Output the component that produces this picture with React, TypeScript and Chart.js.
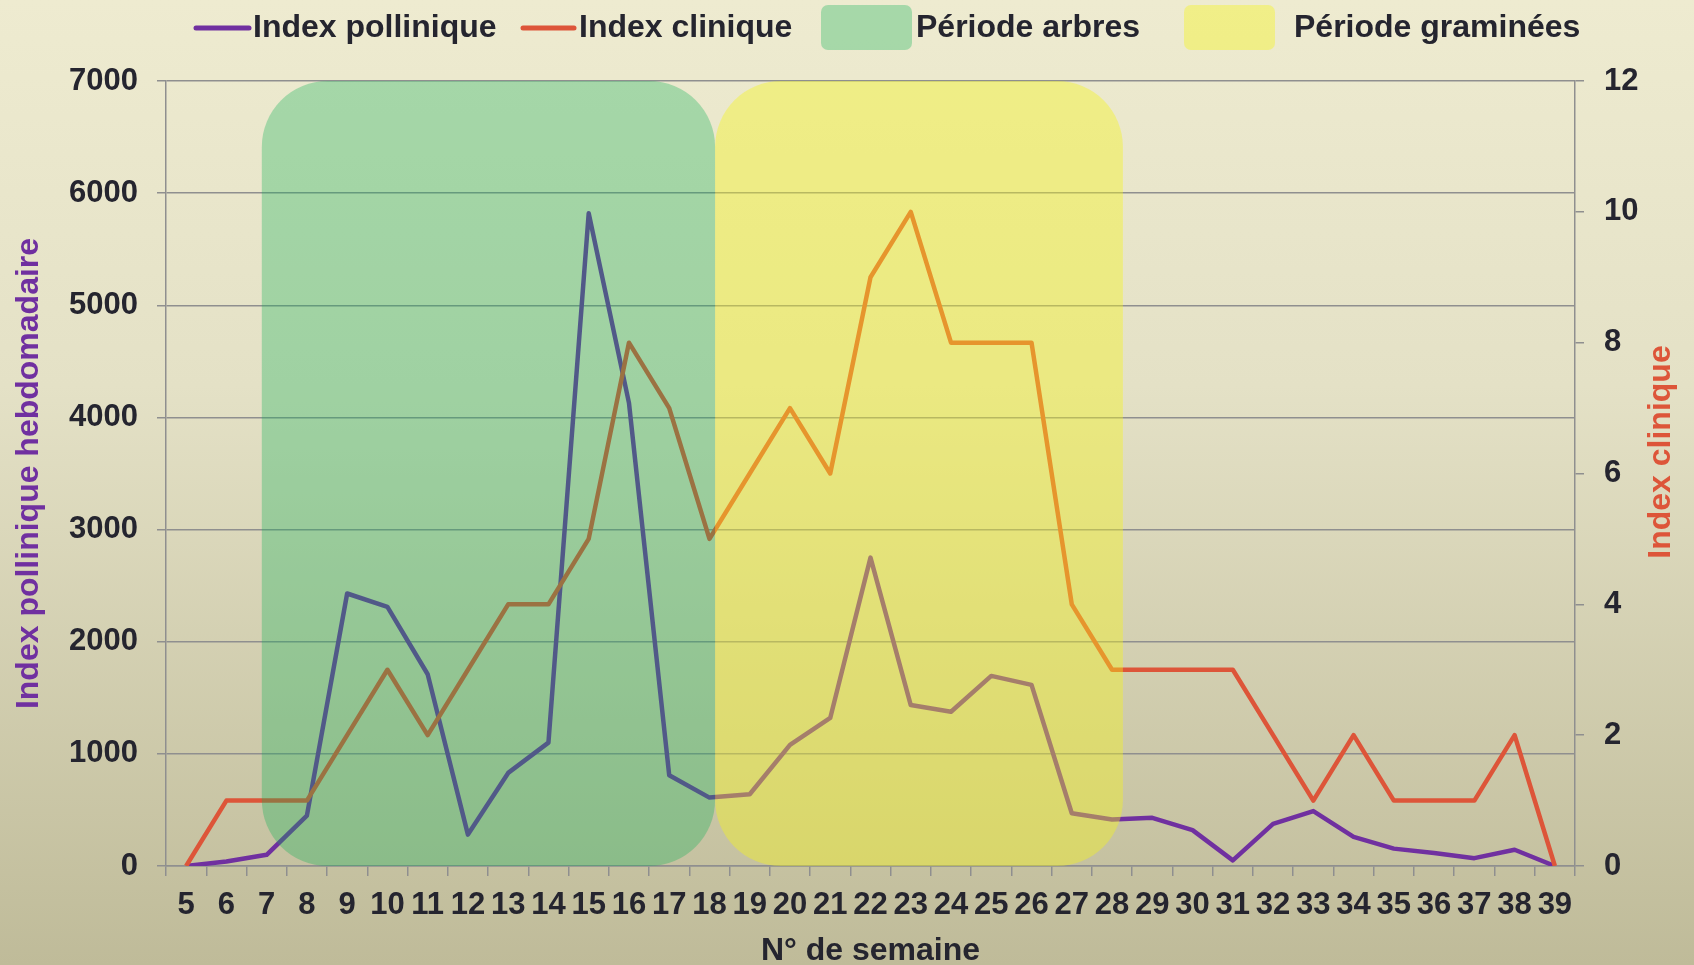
import React, { useEffect, useRef } from "react";
import { Chart, registerables } from "chart.js";

Chart.register(...registerables);

const weeks = [
  "5", "6", "7", "8", "9", "10", "11", "12", "13", "14", "15", "16", "17", "18", "19", "20", "21", "22",
  "23", "24", "25", "26", "27", "28", "29", "30", "31", "32", "33", "34", "35", "36", "37", "38", "39",
];

const indexPollinique = [
  0, 40, 100, 450, 2430, 2310, 1710, 280, 830, 1100, 5820, 4130, 810, 610, 640, 1080, 1320, 2750,
  1435, 1375, 1695, 1615, 470, 415, 430, 320, 50, 375, 490, 260, 155, 115, 70, 145, 0,
];

const indexClinique = [
  0, 1, 1, 1, 2, 3, 2, 3, 4, 4, 5, 8, 7, 5, 6, 7, 6, 9,
  10, 8, 8, 8, 4, 3, 3, 3, 3, 2, 1, 2, 1, 1, 1, 2, 0,
];

// period boxes, expressed in week numbers (start, end)
const periodeArbres = [6.88, 18.14];
const periodeGraminees = [18.14, 28.27];

const leftTicksMax = 7000;
const rightTicksMax = 12;

const FONT = '"Liberation Sans", Arial, sans-serif';
const TEXT = "#25252F";
const GRID = "#8F8F8F";
const PURPLE = "#7030A0";
const RED = "#DD5539";
const GREEN_FILL = "rgba(14,178,87,0.32)";
const YELLOW_FILL = "rgba(245,245,28,0.40)";

const periodsPlugin = {
  id: "periods",
  afterDatasetsDraw(chart: any) {
    const { ctx } = chart;
    const xs = chart.scales.x;
    const ys = chart.scales.y;
    const top = ys.getPixelForValue(leftTicksMax);
    const bottom = ys.getPixelForValue(0);
    const draw = (p: number[], fill: string) => {
      const x1 = xs.getPixelForValue(p[0] - 5);
      const x2 = xs.getPixelForValue(p[1] - 5);
      ctx.save();
      ctx.fillStyle = fill;
      ctx.beginPath();
      (ctx as any).roundRect(x1, top, x2 - x1, bottom - top, 66);
      ctx.fill();
      ctx.restore();
    };
    draw(periodeArbres, GREEN_FILL);
    draw(periodeGraminees, YELLOW_FILL);
  },
};

const legendPlugin = {
  id: "customLegend",
  afterDraw(chart: any) {
    const { ctx } = chart;
    ctx.save();
    ctx.font = `bold 32px ${FONT}`;
    ctx.textBaseline = "middle";
    ctx.textAlign = "left";
    const y = 28;
    const lineItem = (x1: number, x2: number, color: string, tx: number, text: string) => {
      ctx.strokeStyle = color;
      ctx.lineWidth = 5;
      ctx.lineCap = "round";
      ctx.beginPath();
      ctx.moveTo(x1, y);
      ctx.lineTo(x2, y);
      ctx.stroke();
      ctx.fillStyle = TEXT;
      ctx.fillText(text, tx, y);
    };
    lineItem(196, 249, PURPLE, 253, "Index pollinique");
    lineItem(523, 574, RED, 579, "Index clinique");
    const boxItem = (x: number, fill: string, tx: number, text: string) => {
      ctx.fillStyle = fill;
      ctx.beginPath();
      (ctx as any).roundRect(x, 5, 91, 45, 7);
      ctx.fill();
      ctx.fillStyle = TEXT;
      ctx.fillText(text, tx, y);
    };
    boxItem(821, GREEN_FILL, 916, "Période arbres");
    boxItem(1184, YELLOW_FILL, 1294, "Période graminées");

    // right axis title, reading bottom-to-top
    ctx.translate(1661, 452);
    ctx.rotate(-Math.PI / 2);
    ctx.textAlign = "center";
    ctx.fillStyle = RED;
    ctx.fillText("Index clinique", 0, 0);
    ctx.restore();
  },
};

export default function App() {
  const canvasRef = useRef<HTMLCanvasElement | null>(null);

  useEffect(() => {
    document.body.style.margin = "0";
    const canvas = canvasRef.current;
    if (!canvas) return;
    const chart = new Chart(canvas, {
      type: "line",
      data: {
        labels: weeks,
        datasets: [
          {
            label: "Index pollinique",
            data: indexPollinique,
            yAxisID: "y",
            borderColor: PURPLE,
            borderWidth: 4.5,
            pointRadius: 0,
            tension: 0,
            borderJoinStyle: "round",
            fill: false,
            order: 1,
          },
          {
            label: "Index clinique",
            data: indexClinique,
            yAxisID: "y1",
            borderColor: RED,
            borderWidth: 4.5,
            pointRadius: 0,
            tension: 0,
            borderJoinStyle: "round",
            fill: false,
            order: 0,
          },
        ],
      },
      options: {
        animation: false,
        responsive: false,
        devicePixelRatio: 1,
        layout: { padding: { top: 81, left: 0, right: 0, bottom: 0 } },
        plugins: {
          legend: { display: false },
          tooltip: { enabled: false },
          title: { display: false },
        },
        scales: {
          x: {
            type: "category",
            offset: true,
            grid: {
              offset: true,
              drawOnChartArea: false,
              drawTicks: true,
              tickLength: 10,
              color: GRID,
              lineWidth: 1.5,
            },
            border: { display: true, color: GRID, width: 1.5 },
            ticks: {
              autoSkip: false,
              maxRotation: 0,
              padding: 11,
              color: TEXT,
              font: { family: FONT, size: 31, weight: "bold" },
            },
            title: {
              display: true,
              text: "N° de semaine",
              color: TEXT,
              font: { family: FONT, size: 32, weight: "bold" },
              padding: { top: 0, bottom: -5 },
            },
            afterFit: (s: any) => {
              s.height = 99;
            },
          },
          y: {
            position: "left",
            min: 0,
            max: leftTicksMax,
            ticks: {
              stepSize: 1000,
              padding: 19,
              color: TEXT,
              font: { family: FONT, size: 31, weight: "bold" },
              callback: (v: any) => String(v),
            },
            grid: { color: GRID, lineWidth: 1.5, tickLength: 9, drawTicks: true },
            border: { display: true, color: GRID, width: 1.5 },
            title: {
              display: true,
              text: "Index pollinique hebdomadaire",
              color: PURPLE,
              font: { family: FONT, size: 32, weight: "bold" },
              padding: { top: 10, bottom: 0 },
            },
            afterFit: (s: any) => {
              s.width = 166;
            },
          },
          y1: {
            position: "right",
            min: 0,
            max: rightTicksMax,
            ticks: {
              stepSize: 2,
              padding: 20,
              color: TEXT,
              font: { family: FONT, size: 31, weight: "bold" },
              callback: (v: any) => String(v),
            },
            grid: {
              drawOnChartArea: false,
              drawTicks: true,
              tickLength: 9,
              color: GRID,
              lineWidth: 1.5,
            },
            border: { display: true, color: GRID, width: 1.5 },
            afterFit: (s: any) => {
              s.width = 119;
            },
          },
        },
      } as any,
      plugins: [periodsPlugin, legendPlugin],
    });
    return () => chart.destroy();
  }, []);

  return (
    <div
      style={{
        width: 1694,
        height: 965,
        background: "linear-gradient(to bottom, #EEEBD0 0%, #E4E1C6 40%, #BFBB99 100%)",
        position: "relative",
        overflow: "hidden",
      }}
    >
      <canvas ref={canvasRef} width={1694} height={965} style={{ display: "block" }} />
    </div>
  );
}
